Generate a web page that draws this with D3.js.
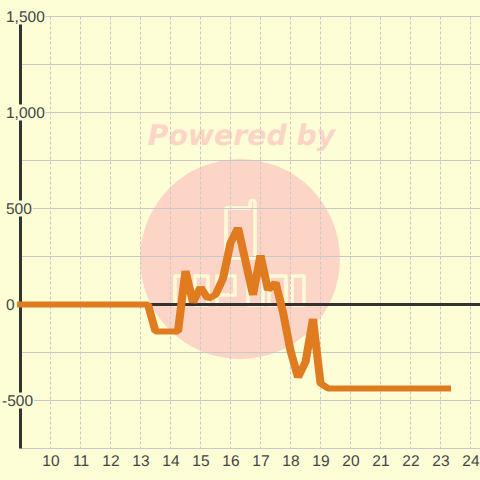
<!DOCTYPE html>
<html>
<head>
<meta charset="utf-8">
<script src="https://cdn.jsdelivr.net/npm/d3@7"></script>
<style>
  html, body { margin: 0; padding: 0; background: #fdfed6; }
  svg { display: block; text-rendering: geometricPrecision; }
  text { font-family: "Liberation Sans", sans-serif; }
</style>
</head>
<body>
<div id="chart"></div>
<script>
// quarter hours from 9.00 to 23.25
const startHour = 9;
const hourStep = 0.25;
const values = [
  0, 0, 0, 0, 0, 0, 0, 0, 0, 0, 0, 0, 0, 0, 0, 0, 0, 0,
  -140, -140, -140, -140, 175, 10, 90, 30, 50, 135, 320, 400,
  225, 50, 255, 75, 115, -40, -240, -380, -300, -75, -410, -437,
  -437, -437, -437, -437, -437, -437, -437, -437, -437, -437, -437, -437, -437, -437, -437, -437
];
const xTicks = [10, 11, 12, 13, 14, 15, 16, 17, 18, 19, 20, 21, 22, 23, 24];
const yGrid = [-750, -500, -250, 0, 250, 500, 750, 1000, 1250, 1500];
const yTicks = [1500, 1000, 500, 0, -500];
const yTickLabels = ['1,500', '1,000', '500', '0', '-500'];

const width = 480;
const height = 480;
const bg = '#fdfed6';

const x = d3.scaleLinear().domain([9, 24.3167]).range([20.5, 480]);
const y = d3.scaleLinear().domain([-750, 1500]).range([448.5, 16.5]);

const svg = d3.select('#chart')
  .append('svg')
  .attr('width', width)
  .attr('height', height);

svg.append('rect')
  .attr('width', width)
  .attr('height', height)
  .attr('fill', bg);

// watermark
const mark = svg.append('g').attr('class', 'watermark');

mark.append('circle')
  .attr('cx', 240)
  .attr('cy', 259)
  .attr('r', 100)
  .attr('fill', '#fcd5c7');

mark.append('text')
  .attr('x', 241.5)
  .attr('y', 145)
  .attr('text-anchor', 'middle')
  .attr('fill', '#fcd5c7')
  .style('font-family', '"DejaVu Sans", sans-serif')
  .style('font-weight', 'bold')
  .style('font-style', 'italic')
  .style('font-size', '28.3px')
  .text('Powered by');

mark.append('path')
  .attr('fill', 'none')
  .attr('stroke', '#fdfbd6')
  .attr('stroke-width', 3.5)
  .attr('stroke-linejoin', 'round')
  .attr('stroke-linecap', 'round')
  .attr('d', 'M226 208H250V203A2.5 2.5 0 0 1 255 203V258H226Z'
    + 'M175 305V276H187V305Z'
    + 'M195 305V276H208V305Z'
    + 'M217 305V276H235V295H217'
    + 'M248 305V276H263V305Z'
    + 'M269 305V276H286V305Z'
    + 'M292 305V276H304V305Z');

// grid
svg.append('g')
  .attr('class', 'grid-x')
  .selectAll('line')
  .data(xTicks)
  .join('line')
    .attr('x1', d => x(d))
    .attr('x2', d => x(d))
    .attr('y1', y(1500))
    .attr('y2', y(-750))
    .attr('stroke', '#c8c8c8')
    .attr('stroke-dasharray', '3,2');

svg.append('g')
  .attr('class', 'grid-y')
  .selectAll('line')
  .data(yGrid.filter(d => d !== 0))
  .join('line')
    .attr('x1', x(9))
    .attr('x2', width)
    .attr('y1', d => y(d))
    .attr('y2', d => y(d))
    .attr('stroke', '#c8c8c8');

// zero line and left axis line
svg.append('line')
  .attr('x1', x(9))
  .attr('x2', width)
  .attr('y1', y(0))
  .attr('y2', y(0))
  .attr('stroke', '#333')
  .attr('stroke-width', 3);

svg.append('line')
  .attr('x1', x(9))
  .attr('x2', x(9))
  .attr('y1', y(1500))
  .attr('y2', y(-750))
  .attr('stroke', '#333')
  .attr('stroke-width', 3);

// axes
const xAxis = svg.append('g')
  .attr('transform', `translate(0,${y(-750)})`)
  .call(d3.axisBottom(x).tickValues(xTicks).tickSize(0).tickPadding(5).tickFormat(d => d));
xAxis.select('.domain').remove();
xAxis.selectAll('text')
  .attr('y', 17.5)
  .attr('dy', 0)
  .attr('fill', '#444')
  .style('font-size', '15.5px')
  .style('font-family', '"Liberation Sans", sans-serif');

const yAxis = svg.append('g')
  .call(d3.axisLeft(y).tickValues(yTicks).tickSize(0).tickFormat((d, i) => yTickLabels[i]));
yAxis.select('.domain').remove();
yAxis.selectAll('.tick text')
  .attr('x', d => d < 0 ? 2 : 6)
  .attr('dy', 5)
  .attr('text-anchor', 'start')
  .attr('fill', '#444')
  .style('font-size', '15.5px')
  .style('font-family', '"Liberation Sans", sans-serif');

// labels sit on a small box in the background colour
yAxis.selectAll('.tick').each(function() {
  const label = d3.select(this).select('text');
  const box = label.node().getBBox();
  d3.select(this).insert('rect', 'text')
    .attr('x', box.x - 1)
    .attr('y', -8.5)
    .attr('width', box.width + 1.5)
    .attr('height', 16)
    .attr('fill', bg);
});

// series: the reference pen is wider than it is tall, so stretch the stroke in x
const penStretch = 1.35;
const line = d3.line()
  .x((d, i) => x(startHour + i * hourStep) / penStretch)
  .y(d => y(d));

svg.append('clipPath')
  .attr('id', 'line-clip')
  .append('rect')
  .attr('x', 17 / penStretch)
  .attr('y', 0)
  .attr('width', 434 / penStretch)
  .attr('height', height);

svg.append('g')
  .attr('transform', `scale(${penStretch},1)`)
  .append('path')
  .datum(values)
  .attr('clip-path', 'url(#line-clip)')
  .attr('fill', 'none')
  .attr('stroke', '#e07b20')
  .attr('stroke-width', 6)
  .attr('stroke-linecap', 'square')
  .attr('stroke-linejoin', 'bevel')
  .attr('d', line);
</script>
</body>
</html>
